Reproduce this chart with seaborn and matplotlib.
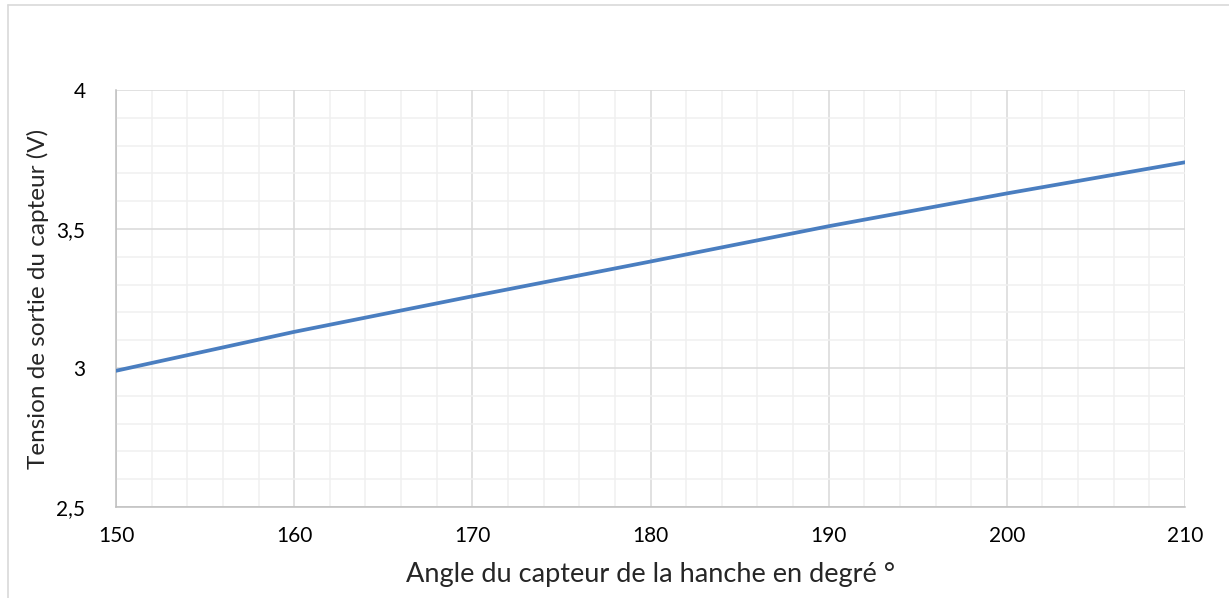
import numpy as np
import matplotlib.pyplot as plt
import seaborn as sns
import pandas as pd
from matplotlib.ticker import MultipleLocator
from matplotlib.lines import Line2D

# ──────────────────────────────────────────────
# Data
# ──────────────────────────────────────────────
angles = [150, 160, 170, 180, 190, 200, 210]
voltages = [2.99, 3.13, 3.258, 3.383, 3.51, 3.628, 3.74]

x_ticks = [150, 160, 170, 180, 190, 200, 210]
y_ticks = [2.5, 3.0, 3.5, 4.0]
y_tick_labels = ["2,5", "3", "3,5", "4"]

x_label = "Angle du capteur de la hanche en degré °"
y_label = "Tension de sortie du capteur (V)"

df = pd.DataFrame({"angle": angles, "tension": voltages})

# ──────────────────────────────────────────────
# Plot
# ──────────────────────────────────────────────
sns.set_style("white")
plt.rcParams["font.family"] = ["Lato", "DejaVu Sans"]

W, H = 1229, 598
fig = plt.figure(figsize=(W / 100, H / 100), dpi=100)
ax = fig.add_axes([116 / W, 1 - 507 / H, (1185 - 116) / W, (507 - 90) / H])

sns.lineplot(data=df, x="angle", y="tension", ax=ax, color="#4A7EC0",
             linewidth=2.7, zorder=3)

ax.set_xlim(150, 210)
ax.set_ylim(2.5, 4.0)
ax.set_xticks(x_ticks)
ax.set_yticks(y_ticks)
ax.set_yticklabels(y_tick_labels)
ax.xaxis.set_minor_locator(MultipleLocator(2))
ax.yaxis.set_minor_locator(MultipleLocator(0.1))

ax.grid(which="major", color="#D9D9D9", linewidth=1.1, zorder=1)
ax.grid(which="minor", color="#F0F0F0", linewidth=1.1, zorder=0)
ax.tick_params(which="both", length=0, labelsize=15, colors="black")
ax.tick_params(axis="x", pad=14)
ax.tick_params(axis="y", pad=22)

for side in ["top", "right"]:
    ax.spines[side].set_visible(False)
for side in ["left", "bottom"]:
    ax.spines[side].set_color("#BFBFBF")
    ax.spines[side].set_linewidth(1.1)

ax.set_xlabel(x_label, fontsize=19.5, labelpad=11)
ax.set_ylabel(y_label, fontsize=17.5, labelpad=5)

# chart frame (cropped in the reference: only left and top edges visible)
fig.add_artist(Line2D([8 / W, 8 / W], [0, 1 - 5 / H], color="#D9D9D9",
                      linewidth=1.2, transform=fig.transFigure))
fig.add_artist(Line2D([8 / W, 1], [1 - 5 / H, 1 - 5 / H], color="#D9D9D9",
                      linewidth=1.2, transform=fig.transFigure))

fig.savefig("out.png", dpi=100)
plt.close(fig)
